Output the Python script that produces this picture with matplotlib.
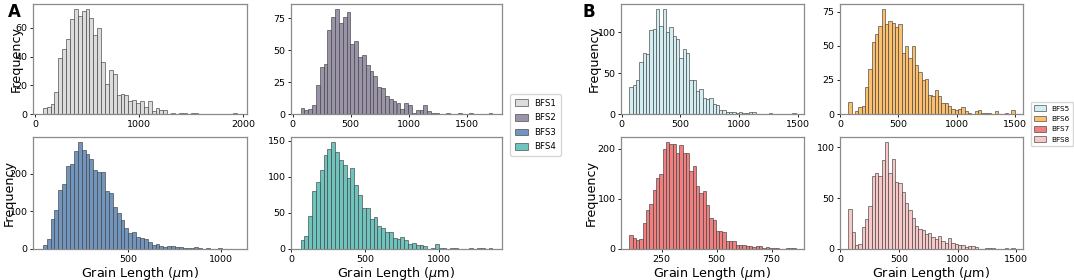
import numpy as np
import matplotlib
matplotlib.use('Agg')
import matplotlib.pyplot as plt

plt.rcParams['font.family'] = 'DejaVu Sans'

# bin counts (50 bins per sample), with the data range of each
bfs1 = [4, 5, 7, 15, 39, 45, 52, 66, 73, 68, 72, 73, 67, 55, 60, 36, 21, 31, 28, 13,
        14, 13, 9, 10, 8, 9, 5, 9, 2, 4, 3, 3, 0, 1, 0, 1, 1, 0, 1, 1,
        0, 0, 0, 0, 0, 0, 0, 0, 0, 1]
bfs2 = [5, 3, 4, 7, 23, 37, 39, 66, 76, 82, 71, 76, 80, 55, 57, 45, 46, 38, 34, 30,
        21, 20, 14, 12, 10, 9, 4, 9, 7, 1, 3, 3, 7, 2, 1, 1, 0, 0, 1, 0,
        0, 1, 0, 0, 1, 0, 0, 0, 0, 1]
bfs3 = [11, 26, 79, 104, 157, 172, 222, 227, 262, 284, 264, 253, 239, 211, 204, 204, 155, 148, 113, 95,
        77, 57, 42, 46, 31, 30, 26, 18, 11, 13, 9, 6, 9, 7, 5, 4, 3, 2, 3, 4,
        2, 1, 2, 1, 1, 2, 0, 0, 1, 1]
bfs4 = [13, 18, 46, 80, 93, 109, 131, 139, 148, 134, 124, 117, 99, 113, 89, 75, 57, 57, 41, 44,
        32, 29, 23, 23, 15, 14, 17, 13, 7, 8, 5, 6, 4, 0, 2, 7, 2, 1, 0, 2,
        1, 0, 0, 0, 2, 0, 2, 1, 0, 1]
bfs5 = [33, 35, 42, 64, 74, 73, 103, 104, 128, 108, 128, 100, 106, 95, 92, 69, 79, 75, 41, 42,
        28, 30, 20, 18, 20, 12, 11, 5, 5, 3, 3, 3, 1, 2, 1, 1, 2, 2, 0, 0,
        0, 0, 1, 0, 0, 0, 0, 0, 0, 1]
bfs6 = [9, 0, 2, 5, 6, 20, 33, 53, 59, 65, 77, 66, 68, 67, 64, 66, 45, 50, 41, 50,
        36, 31, 25, 26, 14, 13, 18, 13, 8, 8, 6, 4, 3, 4, 5, 2, 1, 0, 2, 3,
        1, 1, 1, 0, 2, 0, 0, 1, 0, 3]
bfs7 = [28, 21, 18, 19, 51, 78, 90, 118, 142, 150, 199, 213, 209, 209, 191, 207, 192, 191, 155, 165,
        125, 112, 115, 88, 62, 58, 35, 35, 33, 15, 15, 15, 8, 7, 8, 6, 6, 4, 5, 5,
        2, 3, 2, 1, 1, 0, 0, 1, 1, 1]
bfs8 = [39, 17, 4, 5, 22, 30, 42, 72, 75, 72, 88, 105, 75, 89, 66, 65, 56, 45, 38, 31,
        23, 20, 19, 15, 16, 12, 10, 13, 8, 6, 11, 6, 5, 4, 4, 2, 3, 3, 2, 0,
        0, 1, 1, 1, 0, 0, 0, 1, 0, 1]

ranges = {'BFS1': (70, 1945), 'BFS2': (69, 1723), 'BFS3': (43, 1085), 'BFS4': (65, 1359),
          'BFS5': (65, 1480), 'BFS6': (69, 1500), 'BFS7': (103, 860), 'BFS8': (68, 1486)}
counts = {'BFS1': bfs1, 'BFS2': bfs2, 'BFS3': bfs3, 'BFS4': bfs4,
          'BFS5': bfs5, 'BFS6': bfs6, 'BFS7': bfs7, 'BFS8': bfs8}
colors = {'BFS1': '#dcdcdc', 'BFS2': '#9b94a8', 'BFS3': '#7195bd', 'BFS4': '#70c4be',
          'BFS5': '#d3eef3', 'BFS6': '#fbbf6e', 'BFS7': '#f07f7f', 'BFS8': '#f8c8c8'}

xticks = {'BFS1': [0, 1000, 2000], 'BFS2': [0, 500, 1000, 1500], 'BFS3': [500, 1000],
          'BFS4': [0, 500, 1000], 'BFS5': [0, 500, 1000, 1500], 'BFS6': [0, 500, 1000, 1500],
          'BFS7': [250, 500, 750], 'BFS8': [0, 500, 1000, 1500]}
yticks = {'BFS1': [0, 20, 40, 60], 'BFS2': [0, 25, 50, 75], 'BFS3': [0, 100, 200],
          'BFS4': [0, 50, 100, 150], 'BFS5': [0, 50, 100], 'BFS6': [0, 25, 50, 75],
          'BFS7': [0, 100, 200], 'BFS8': [0, 50, 100]}

W, H = 1074, 280
fig = plt.figure(figsize=(W / 100, H / 100), dpi=100)

# axes boxes in pixels: left, top, right, bottom
boxes = {'BFS1': (33, 4, 247, 114), 'BFS2': (291, 4, 502, 114),
         'BFS3': (33, 137, 247, 249), 'BFS4': (291, 137, 502, 249),
         'BFS5': (621, 4, 804, 114), 'BFS6': (840, 4, 1023, 114),
         'BFS7': (621, 137, 804, 249), 'BFS8': (840, 137, 1023, 249)}
# where the "Frequency" label sits (pixel x of its right side)
ylabel_x = {'BFS1': 23, 'BFS3': 16, 'BFS5': 601, 'BFS7': 598}

handles = {}
for name, (l, t, r, b) in boxes.items():
    ax = fig.add_axes([l / W, 1 - b / H, (r - l) / W, (b - t) / H])
    lo, hi = ranges[name]
    c = np.array(counts[name], dtype=float)
    edges = np.linspace(lo, hi, len(c) + 1)
    centers = (edges[:-1] + edges[1:]) / 2
    _, _, patches = ax.hist(centers, bins=edges, weights=c, color=colors[name],
                            edgecolor=(0.25, 0.25, 0.25, 0.75), linewidth=0.6, label=name)
    handles[name] = patches[0]
    ax.set_xticks(xticks[name])
    ax.set_yticks(yticks[name])
    ax.tick_params(labelsize=6.8, length=2.5, width=0.6, pad=1.5)
    for s in ax.spines.values():
        s.set_color('#8a8a8a')
        s.set_linewidth(0.9)
    if name in ylabel_x:
        ax.set_ylabel('Frequency', fontsize=9.2)
        ax.yaxis.set_label_coords((ylabel_x[name] - l) / (r - l), 0.5)
    if name in ('BFS3', 'BFS4', 'BFS7', 'BFS8'):
        ax.set_xlabel(r'Grain Length ($\mu$m)', fontsize=9.2, labelpad=1)

fig.legend([handles[n] for n in ['BFS1', 'BFS2', 'BFS3', 'BFS4']],
           ['BFS1', 'BFS2', 'BFS3', 'BFS4'], loc='center left',
           bbox_to_anchor=(506 / W, 1 - 125 / H), fontsize=6.2, handlelength=1.5,
           handleheight=0.8, labelspacing=0.65, borderpad=0.5, handletextpad=0.8)
fig.legend([handles[n] for n in ['BFS5', 'BFS6', 'BFS7', 'BFS8']],
           ['BFS5', 'BFS6', 'BFS7', 'BFS8'], loc='center left',
           bbox_to_anchor=(1027 / W, 1 - 124 / H), fontsize=5.2, handlelength=1.6,
           handleheight=0.8, labelspacing=0.55, borderpad=0.5, handletextpad=0.8)

fig.text(8 / W, 1 - 3 / H, 'A', fontsize=12, fontweight='bold', va='top')
fig.text(582 / W, 1 - 3 / H, 'B', fontsize=12, fontweight='bold', va='top')

fig.savefig('out.png', dpi=100)
